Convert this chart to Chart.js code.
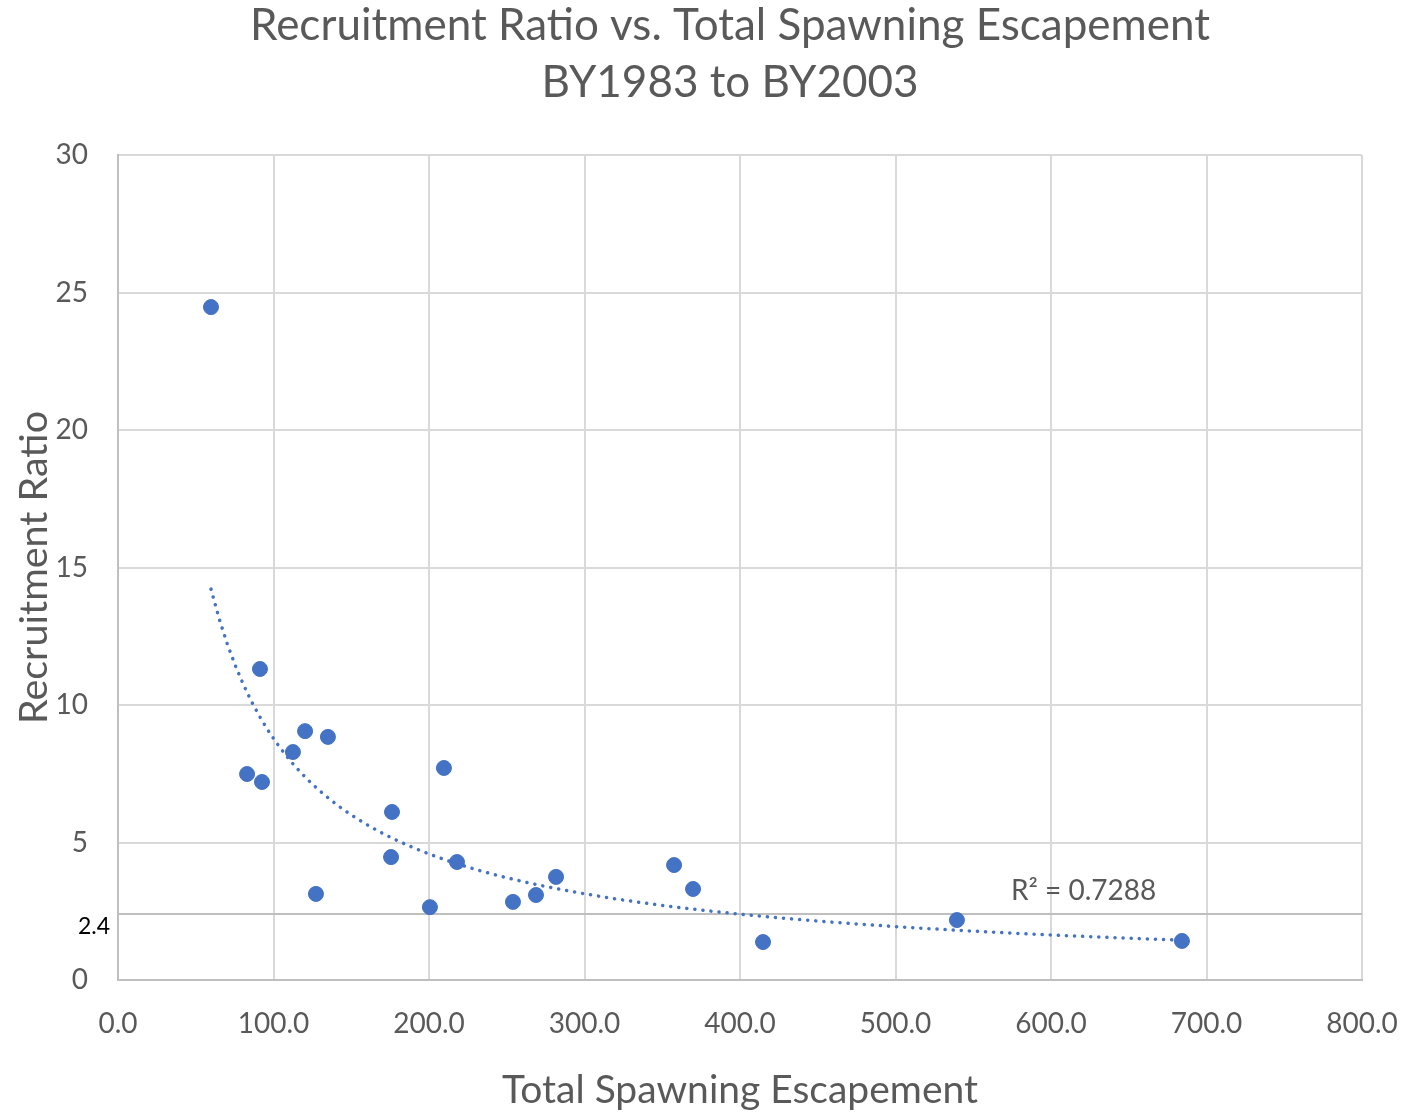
<!DOCTYPE html>
<html>
<head>
<meta charset="utf-8">
<script src="https://cdn.jsdelivr.net/npm/chart.js@4"></script>
<style>
  html, body { margin: 0; padding: 0; background: #fff; }
  #wrap { width: 1427px; height: 1114px; }
</style>
</head>
<body>
<div id="wrap"><canvas id="chart"></canvas></div>
<script>
// escapement (x) and recruitment ratio (y), BY1983..BY2003
const escapement = [59.8, 91.3, 120.3, 135.0, 112.5, 83.0, 92.6, 209.6, 176.2, 175.6, 218.0,
                    127.3, 200.6, 254.0, 268.8, 281.7, 357.6, 369.8, 414.8, 539.5, 684.2];
const recruitRatio = [24.47, 11.31, 9.05, 8.84, 8.29, 7.49, 7.20, 7.71, 6.11, 4.47, 4.29,
                      3.13, 2.65, 2.84, 3.09, 3.75, 4.18, 3.31, 1.38, 2.18, 1.42];
const referenceLevel = 2.4;
const rSquaredLabel = 'R² = 0.7288';
const xTicks = [0, 100, 200, 300, 400, 500, 600, 700, 800];
const yTicks = [0, 5, 10, 15, 20, 25, 30];

const FONT = 'Lato, "Open Sans", sans-serif';
const TEXT = '#595959';
const BLUE = '#4472C4';

// power trendline y = a * x^b, least squares on logs (like Excel)
function powerFit(xs, ys) {
    const n = xs.length;
    let sx = 0, sy = 0, sxx = 0, sxy = 0;
    for (let i = 0; i < n; i++) {
        const lx = Math.log(xs[i]), ly = Math.log(ys[i]);
        sx += lx; sy += ly; sxx += lx * lx; sxy += lx * ly;
    }
    const b = (n * sxy - sx * sy) / (n * sxx - sx * sx);
    const a = Math.exp((sy - b * sx) / n);
    return { a, b };
}
const fit = powerFit(escapement, recruitRatio);
const xMin = Math.min(...escapement), xMax = Math.max(...escapement);
const trend = [];
for (let i = 0; i <= 120; i++) {
    const x = xMin + (xMax - xMin) * i / 120;
    trend.push({ x: x, y: fit.a * Math.pow(x, fit.b) });
}

const extras = {
    id: 'extras',
    beforeDatasetsDraw(chart) {
        const { ctx, chartArea, scales } = chart;
        const y = scales.y.getPixelForValue(referenceLevel);
        ctx.save();
        ctx.strokeStyle = '#bfbfbf';
        ctx.lineWidth = 2;
        ctx.beginPath();
        ctx.moveTo(chartArea.left, y);
        ctx.lineTo(chartArea.right, y);
        ctx.stroke();
        ctx.fillStyle = '#000';
        ctx.font = '23px ' + FONT;
        ctx.textAlign = 'right';
        ctx.textBaseline = 'middle';
        ctx.fillText(String(referenceLevel), chartArea.left - 8, y + 13);
        ctx.restore();
    },
    afterDatasetsDraw(chart) {
        const { ctx, scales } = chart;
        ctx.save();
        ctx.fillStyle = TEXT;
        ctx.font = '28px ' + FONT;
        ctx.textAlign = 'center';
        ctx.textBaseline = 'middle';
        ctx.fillText(rSquaredLabel, scales.x.getPixelForValue(621), scales.y.getPixelForValue(3.25));
        ctx.restore();
    }
};

new Chart(document.getElementById('chart'), {
    type: 'scatter',
    data: {
        datasets: [{
            label: 'Recruitment Ratio',
            data: escapement.map((x, i) => ({ x: x, y: recruitRatio[i] })),
            backgroundColor: BLUE,
            borderColor: BLUE,
            pointRadius: 7.5,
            pointHoverRadius: 7.5,
            order: 1
        }, {
            label: 'Power trend',
            type: 'line',
            data: trend,
            borderColor: BLUE,
            borderWidth: 3.5,
            borderDash: [0.1, 8],
            borderCapStyle: 'round',
            pointRadius: 0,
            fill: false,
            order: 2
        }]
    },
    options: {
        responsive: true,
        maintainAspectRatio: false,
        animation: false,
        // title is centred a bit right of the canvas centre, so widen the layout box
        // and keep the plot's right edge via the x scale's padding
        layout: { padding: { left: 0, right: -33, top: 0, bottom: 0 } },
        plugins: {
            legend: { display: false },
            tooltip: { enabled: false },
            title: {
                display: true,
                text: ['Recruitment Ratio vs. Total Spawning Escapement', 'BY1983 to BY2003'],
                color: TEXT,
                font: { family: FONT, size: 44, weight: 'normal', lineHeight: 1.3 },
                padding: { top: -3, bottom: 43.6 }
            }
        },
        scales: {
            x: {
                type: 'linear',
                min: 0,
                max: 800,
                afterBuildTicks: s => { s.ticks = xTicks.map(v => ({ value: v })); },
                afterFit: s => { s.height = 134; s.paddingRight = 65; },
                ticks: {
                    color: TEXT,
                    font: { family: FONT, size: 28 },
                    padding: 27,
                    callback: v => v.toFixed(1)
                },
                grid: { color: '#d9d9d9', lineWidth: 2, drawTicks: false },
                border: { color: '#bfbfbf', width: 2 },
                title: {
                    display: true,
                    text: 'Total Spawning Escapement',
                    color: TEXT,
                    font: { family: FONT, size: 39 },
                    padding: { top: 0, bottom: 0 }
                }
            },
            y: {
                min: 0,
                max: 30,
                afterBuildTicks: s => { s.ticks = yTicks.map(v => ({ value: v })); },
                afterFit: s => { s.width = 118; },
                ticks: {
                    color: TEXT,
                    font: { family: FONT, size: 28 },
                    padding: 30
                },
                grid: { color: '#d9d9d9', lineWidth: 2, drawTicks: false },
                border: { color: '#bfbfbf', width: 2 },
                title: {
                    display: true,
                    text: 'Recruitment Ratio',
                    color: TEXT,
                    font: { family: FONT, size: 39.5 },
                    padding: { top: 11, bottom: 0 }
                }
            }
        }
    },
    plugins: [extras]
});
</script>
</body>
</html>
